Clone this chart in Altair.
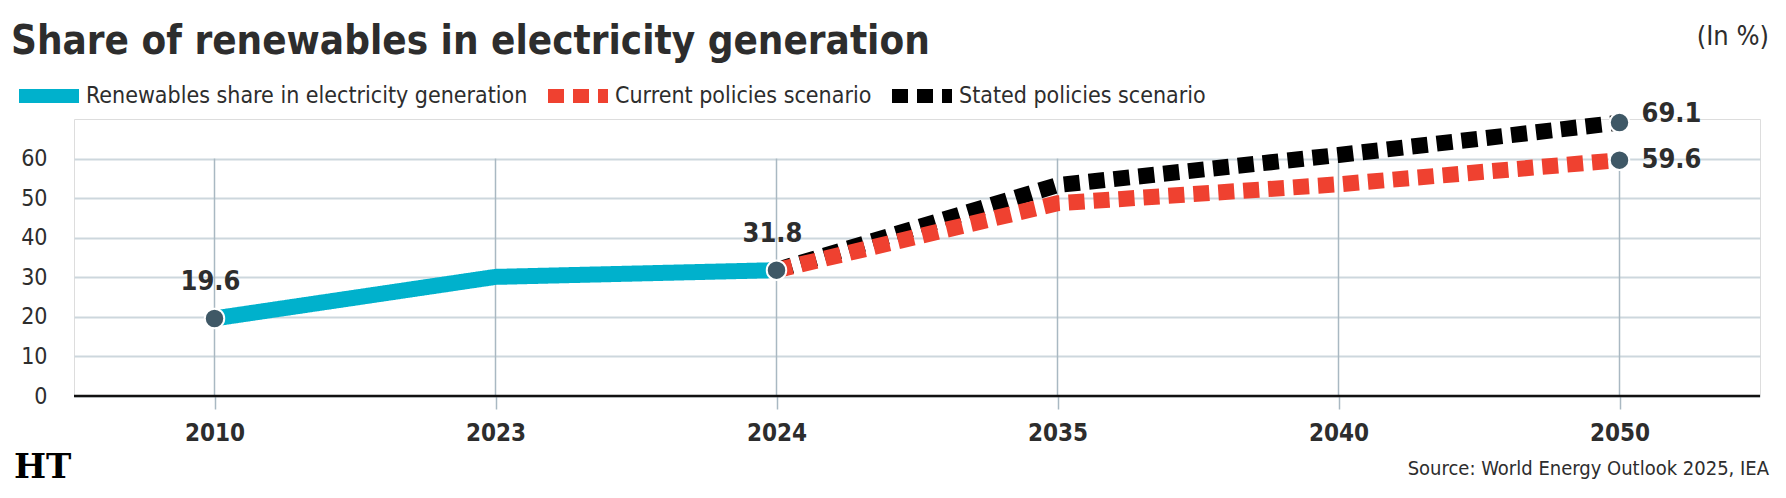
import altair as alt
import pandas as pd

FONT = "'Liberation Sans Narrow', 'Arial Narrow', 'DejaVu Sans Condensed', sans-serif"
TEXT_COLOR = "#2d2d2d"

# Category axis
years = ["2010", "2023", "2024", "2035", "2040", "2050"]

# Series
series_names = [
    "Renewables share in electricity generation",
    "Current policies scenario",
    "Stated policies scenario",
]
series_colors = ["#00b1cc", "#ef4130", "#000000"]
series_dashes = [[1, 0], [16, 9], [16, 9]]

renew_years = ["2010", "2023", "2024"]
renew_values = [19.6, 30.1, 31.8]

scenario_years = ["2024", "2035", "2040", "2050"]
current_values = [31.8, 48.7, 53.5, 59.6]
stated_values = [31.8, 53.3, 60.9, 69.1]

# Highlighted points with value labels
marker_years = ["2010", "2024", "2050", "2050"]
marker_values = [19.6, 31.8, 69.1, 59.6]
marker_side = ["above", "above", "right", "right"]

y_ticks = [0, 10, 20, 30, 40, 50, 60]
grid_top = 60

W, H = 1686, 277

lines = pd.concat([
    pd.DataFrame({"year": scenario_years, "value": stated_values, "series": series_names[2]}),
    pd.DataFrame({"year": scenario_years, "value": current_values, "series": series_names[1]}),
    pd.DataFrame({"year": renew_years, "value": renew_values, "series": series_names[0]}),
], ignore_index=True)

markers = pd.DataFrame({"year": marker_years, "value": marker_values, "side": marker_side})
vgrid = pd.DataFrame({"year": years, "lo": 0, "hi": grid_top})

x_enc = alt.X(
    "year:O",
    sort=years,
    scale=alt.Scale(type="point", padding=0.5, domain=years),
    axis=alt.Axis(
        title=None, labelAngle=0, domain=False, grid=False,
        ticks=True, tickSize=13, tickColor="#a9b8c2", tickWidth=1.5,
        labelFont=FONT, labelFontSize=24, labelFontWeight="bold",
        labelColor=TEXT_COLOR, labelPadding=12,
    ),
)
y_scale = alt.Scale(domain=[0, 70], nice=False, zero=True)

legend = alt.Legend(
    title=None, orient="none", legendX=-62, legendY=-60, direction="horizontal",
    symbolType="stroke", symbolSize=3600, symbolStrokeWidth=14, symbolOpacity=1,
    labelFont=FONT, labelFontSize=23, labelColor=TEXT_COLOR, labelOffset=0,
    labelLimit=0, columnPadding=-8,
)
color_enc = alt.Color("series:N", scale=alt.Scale(domain=series_names, range=series_colors), legend=legend)
dash_enc = alt.StrokeDash("series:N", scale=alt.Scale(domain=series_names, range=series_dashes), legend=legend)

base = alt.Chart(lines)

# Vertical grid lines stop at the top tick
vrules = alt.Chart(vgrid).mark_rule(color="#a9b8c2", strokeWidth=1.5).encode(
    x=x_enc,
    y=alt.Y("lo:Q", scale=y_scale, axis=alt.Axis(
        title=None, values=y_ticks, grid=True, gridColor="#cdd7dd", gridWidth=2,
        domain=False, ticks=False, labelFont=FONT, labelFontSize=23,
        labelColor=TEXT_COLOR, labelPadding=27,
    )),
    y2="hi:Q",
)

zero_line = alt.Chart(pd.DataFrame({"v": [0]})).mark_rule(color="#111111", strokeWidth=2.5).encode(
    y=alt.Y("v:Q", scale=y_scale)
)

def series_line(name):
    return base.transform_filter(alt.datum.series == name).mark_line(
        strokeWidth=16, strokeCap="butt", strokeJoin="miter"
    ).encode(
        x=x_enc,
        y=alt.Y("value:Q", scale=y_scale),
        color=color_enc,
        strokeDash=dash_enc,
    )

points = alt.Chart(markers).mark_point(
    shape="circle", filled=True, fill="#3f5866", stroke="#ffffff", strokeWidth=2,
    size=380, opacity=1,
).encode(x=x_enc, y=alt.Y("value:Q", scale=y_scale))

labels_above = alt.Chart(markers).transform_filter(alt.datum.side == "above").mark_text(
    font=FONT, fontSize=27, fontWeight="bold", color=TEXT_COLOR,
    baseline="alphabetic", align="center", dy=-28, dx=-4,
).encode(x=x_enc, y=alt.Y("value:Q", scale=y_scale), text=alt.Text("value:Q", format=".1f"))


def end_label(condition, shift):
    # Labels to the right of the 2050 points; the upper one sits a little higher
    return alt.Chart(markers).transform_filter(alt.datum.side == "right").transform_filter(
        condition
    ).mark_text(
        font=FONT, fontSize=27, fontWeight="bold", color=TEXT_COLOR,
        baseline="middle", align="left", dx=22, dy=shift,
    ).encode(x=x_enc, y=alt.Y("value:Q", scale=y_scale), text=alt.Text("value:Q", format=".1f"))


labels_right_hi = end_label(alt.datum.value > 65, -9)
labels_right_lo = end_label(alt.datum.value <= 65, 0)

unit_note = alt.Chart(pd.DataFrame({"t": ["(In %)"]})).mark_text(
    font=FONT, fontSize=27, color=TEXT_COLOR, align="right", baseline="middle",
).encode(x=alt.value(W + 9), y=alt.value(-82), text="t:N")

source_note = alt.Chart(pd.DataFrame({"t": ["Source: World Energy Outlook 2025, IEA"]})).mark_text(
    font=FONT, fontSize=20, color=TEXT_COLOR, align="right", baseline="middle",
).encode(x=alt.value(W + 9), y=alt.value(350), text="t:N")

logo = alt.Chart(pd.DataFrame({"t": ["HT"]})).mark_text(
    font="'DejaVu Serif', serif", fontSize=34, fontWeight="bold", color="#000000",
    align="left", baseline="middle",
).encode(x=alt.value(-60), y=alt.value(349), text="t:N")

chart = alt.layer(
    vrules,
    zero_line,
    series_line(series_names[2]),
    series_line(series_names[1]),
    series_line(series_names[0]),
    points,
    labels_above,
    labels_right_hi,
    labels_right_lo,
    unit_note,
    source_note,
    logo,
).properties(
    width=W,
    height=H,
    title=alt.TitleParams(
        text="Share of renewables in electricity generation",
        anchor="start", frame="group", font=FONT, fontSize=40, fontWeight="bold",
        color=TEXT_COLOR, dx=-63, offset=10, dy=49,
    ),
    autosize=alt.AutoSizeParams(type="none"),
    padding={"left": 74, "top": 119, "right": 26, "bottom": 102},
).configure_view(stroke=None).configure(background="#ffffff")

chart.save("out.html", embed_options={"renderer": "svg", "actions": False})
